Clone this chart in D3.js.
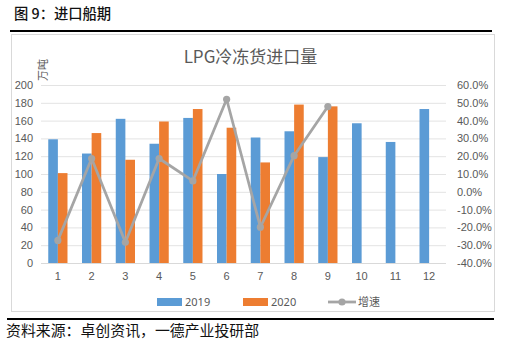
<!DOCTYPE html>
<html>
<head>
<meta charset="utf-8">
<script src="https://cdn.jsdelivr.net/npm/d3@7"></script>
<style>
  body { margin: 0; background: #fff; }
  svg { display: block; font-family: "Noto Sans", "Noto Sans CJK SC", sans-serif; }
</style>
</head>
<body>
<div id="chart"></div>
<script>
const months = ["1", "2", "3", "4", "5", "6", "7", "8", "9", "10", "11", "12"];
const imports2019 = [139, 123, 162, 134, 163, 100, 141, 148, 119, 157, 136, 173];
const imports2020 = [101, 146, 116, 159, 173, 152, 113, 178, 176];
const growth = [-27.3, 18.7, -28.4, 18.7, 6.1, 52.0, -19.9, 20.3, 47.9];
const leftTicks = [0, 20, 40, 60, 80, 100, 120, 140, 160, 180, 200];
const rightTicks = [-40, -30, -20, -10, 0, 10, 20, 30, 40, 50, 60];

const W = 505, H = 348;
const margin = { top: 85, right: 59, bottom: 85, left: 41 };
const COLORS = { y2019: "#5B9BD5", y2020: "#ED7D31", growth: "#A5A5A5" };
const TEXT = "#595959";

const svg = d3.select("#chart").append("svg")
    .attr("width", W).attr("height", H)
    .attr("viewBox", [0, 0, W, H]);

// page header and rules
svg.append("text")
    .attr("x", 14).attr("y", 18.5)
    .attr("font-family", "Noto Sans CJK SC")
    .attr("font-size", 14.3).attr("font-weight", 500).attr("fill", "#111")
    .text("图 9：进口船期");
svg.append("line").attr("x1", 10).attr("x2", 492).attr("y1", 31).attr("y2", 31)
    .attr("stroke", "#000").attr("stroke-width", 2);

// chart frame
svg.append("rect").attr("x", 11.5).attr("y", 34.5).attr("width", 483).attr("height", 277)
    .attr("fill", "#fff").attr("stroke", "#D9D9D9").attr("stroke-width", 1);

const x = d3.scaleBand()
    .domain(months)
    .range([margin.left, W - margin.right])
    .paddingInner(0.43)
    .paddingOuter(0.215);

const x1 = d3.scaleBand()
    .domain(["2019", "2020"])
    .range([0, x.bandwidth()]);

const y = d3.scaleLinear().domain([0, 200]).range([H - margin.bottom, margin.top]);
const y2 = d3.scaleLinear().domain([-40, 60]).range([H - margin.bottom, margin.top]);

// gridlines
svg.append("g")
    .selectAll("line").data(leftTicks.slice(1)).join("line")
    .attr("x1", margin.left).attr("x2", W - margin.right)
    .attr("y1", d => y(d) + 0.5).attr("y2", d => y(d) + 0.5)
    .attr("stroke", "#E3E3E3").attr("stroke-width", 1);

// left axis
const yAxis = g => g
    .attr("transform", `translate(${margin.left - 8},0)`)
    .call(d3.axisLeft(y).tickValues(leftTicks).tickSize(0).tickPadding(0))
    .call(g => g.select(".domain").remove())
    .call(g => g.selectAll("text").attr("fill", TEXT).attr("font-size", 11));
svg.append("g").call(yAxis);

// right axis
const y2Axis = g => g
    .attr("transform", `translate(${W - margin.right + 11},0)`)
    .call(d3.axisRight(y2).tickValues(rightTicks).tickSize(0).tickPadding(0)
        .tickFormat(d => d.toFixed(1) + "%"))
    .call(g => g.select(".domain").remove())
    .call(g => g.selectAll("text").attr("fill", TEXT).attr("font-size", 11));
svg.append("g").call(y2Axis);

// bars
const bars = svg.append("g");
bars.selectAll(".b19").data(imports2019).join("rect")
    .attr("class", "b19")
    .attr("x", (d, i) => x(months[i]) + x1("2019"))
    .attr("y", d => y(d))
    .attr("width", x1.bandwidth())
    .attr("height", d => y(0) - y(d))
    .attr("fill", COLORS.y2019);
bars.selectAll(".b20").data(imports2020).join("rect")
    .attr("class", "b20")
    .attr("x", (d, i) => x(months[i]) + x1("2020"))
    .attr("y", d => y(d))
    .attr("width", x1.bandwidth())
    .attr("height", d => y(0) - y(d))
    .attr("fill", COLORS.y2020);

// baseline
svg.append("line")
    .attr("x1", margin.left).attr("x2", W - margin.right)
    .attr("y1", y(0) + 0.5).attr("y2", y(0) + 0.5)
    .attr("stroke", "#D9D9D9");

// x axis labels
const xAxis = g => g
    .attr("transform", `translate(0,${y(0) + 9})`)
    .call(d3.axisBottom(x).tickSize(0).tickPadding(0))
    .call(g => g.select(".domain").remove())
    .call(g => g.selectAll("text").attr("fill", TEXT).attr("font-size", 11));
svg.append("g").call(xAxis);

// growth line
const line = d3.line()
    .x((d, i) => x(months[i]) + x.bandwidth() / 2)
    .y(d => y2(d));
svg.append("path").datum(growth)
    .attr("d", line)
    .attr("fill", "none")
    .attr("stroke", COLORS.growth)
    .attr("stroke-width", 2.75)
    .attr("stroke-linejoin", "round");
svg.append("g").selectAll("circle").data(growth).join("circle")
    .attr("cx", (d, i) => x(months[i]) + x.bandwidth() / 2)
    .attr("cy", d => y2(d))
    .attr("r", 3.6)
    .attr("fill", COLORS.growth);

// chart title and unit
svg.append("text")
    .attr("x", 250.5).attr("y", 63)
    .attr("text-anchor", "middle")
    .attr("font-family", "Noto Sans CJK SC")
    .attr("font-size", 17).attr("fill", TEXT)
    .text("LPG冷冻货进口量");
svg.append("text")
    .attr("transform", "translate(47,70) rotate(-90)")
    .attr("text-anchor", "middle")
    .attr("font-family", "Noto Sans CJK SC")
    .attr("font-size", 11).attr("fill", TEXT)
    .text("万吨");

// legend
const legend = svg.append("g").attr("transform", "translate(0,302)");
legend.append("rect").attr("x", 157).attr("y", -4).attr("width", 25).attr("height", 8).attr("fill", COLORS.y2019);
legend.append("text").attr("x", 185).attr("y", 4).attr("font-size", 11).attr("fill", TEXT).text("2019");
legend.append("rect").attr("x", 243).attr("y", -4).attr("width", 25).attr("height", 8).attr("fill", COLORS.y2020);
legend.append("text").attr("x", 271).attr("y", 4).attr("font-size", 11).attr("fill", TEXT).text("2020");
legend.append("line").attr("x1", 328).attr("x2", 356).attr("y1", 0).attr("y2", 0)
    .attr("stroke", COLORS.growth).attr("stroke-width", 2.75);
legend.append("circle").attr("cx", 342).attr("cy", 0).attr("r", 3.6).attr("fill", COLORS.growth);
legend.append("text").attr("x", 358).attr("y", 4).attr("font-family", "Noto Sans CJK SC")
    .attr("font-size", 11).attr("fill", TEXT).text("增速");

// source footer
svg.append("line").attr("x1", 7).attr("x2", 494).attr("y1", 319).attr("y2", 319)
    .attr("stroke", "#000").attr("stroke-width", 2);
svg.append("text")
    .attr("x", 6).attr("y", 336)
    .attr("font-family", "Noto Sans CJK SC")
    .attr("font-size", 14.9).attr("fill", "#111")
    .text("资料来源：卓创资讯，一德产业投研部");
</script>
</body>
</html>
